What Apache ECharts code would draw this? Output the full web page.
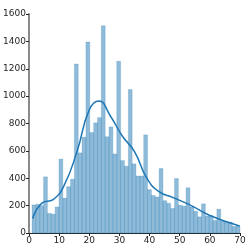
<!DOCTYPE html>
<html>
<head>
<meta charset="utf-8">
<script src="https://cdn.jsdelivr.net/npm/echarts@6/dist/echarts.min.js"></script>
<style>html,body{margin:0;padding:0;background:#fff}#c{width:250px;height:250px}</style>
</head>
<body>
<div id="c"></div>
<script>
// Histogram: 54 bins from 1 to 70
const binStart = 1;
const binEnd = 70;
const counts = [205,210,200,410,143,138,190,540,255,338,393,1235,585,700,1395,734,805,843,1514,703,775,577,1254,529,488,1048,505,416,416,717,317,274,263,471,236,217,179,398,203,196,330,190,159,118,213,124,127,92,174,87,78,80,48,51];
// KDE curve (scaled to counts)
const kdeX = [1.2,4.4,8,11.7,16,20,23.2,27,31,35,39,43,48,54,60,69.9];
const kdeY = [106,220,244,350,601,900,965,855,707,595,405,304,257,198,128,51];
const xTicks = [0,10,20,30,40,50,60,70];
const yTicks = [0,200,400,600,800,1000,1200,1400,1600];

const w = (binEnd - binStart) / counts.length;
const barData = counts.map((c,i)=>[binStart + i*w, binStart + (i+1)*w, c]);
const lineData = kdeX.map((x,i)=>[x, kdeY[i]]);

const chart = echarts.init(document.getElementById('c'), null, {renderer:'canvas'});
const font = {fontFamily:'DejaVu Sans', fontSize:9, color:'#262626'};
chart.setOption({
  animation:false,
  grid:{left:29, right:10, top:14, bottom:17},
  xAxis:{type:'value', min:xTicks[0], max:xTicks[xTicks.length-1], interval:10,
    axisLine:{show:true, lineStyle:{color:'#262626', width:1}},
    axisTick:{show:true, length:3, lineStyle:{color:'#262626'}},
    axisLabel:Object.assign({margin:3, formatter:v=>String(v)}, font),
    splitLine:{show:false}},
  yAxis:{type:'value', min:yTicks[0], max:yTicks[yTicks.length-1], interval:200,
    axisLine:{show:true, lineStyle:{color:'#8a8a8a', width:2}},
    axisTick:{show:true, length:3, lineStyle:{color:'#262626'}},
    axisLabel:Object.assign({margin:3, formatter:v=>String(v)}, font),
    splitLine:{show:false}},
  series:[
    {type:'custom', data:barData, encode:{x:[0,1], y:2},
     renderItem:function(params, api){
       const p0 = api.coord([api.value(0), api.value(2)]);
       const p1 = api.coord([api.value(1), 0]);
       return {type:'rect', shape:{x:p0[0], y:p0[1], width:p1[0]-p0[0], height:p1[1]-p0[1]},
         style:{fill:'rgba(31,119,180,0.5)', stroke:'rgba(31,119,180,0.35)', lineWidth:0.6}};
     }, z:2},
    {type:'line', data:lineData, smooth:0.5, showSymbol:false,
     lineStyle:{color:'#1f77b4', width:1.5}, z:3}
  ]
});
</script>
</body>
</html>
